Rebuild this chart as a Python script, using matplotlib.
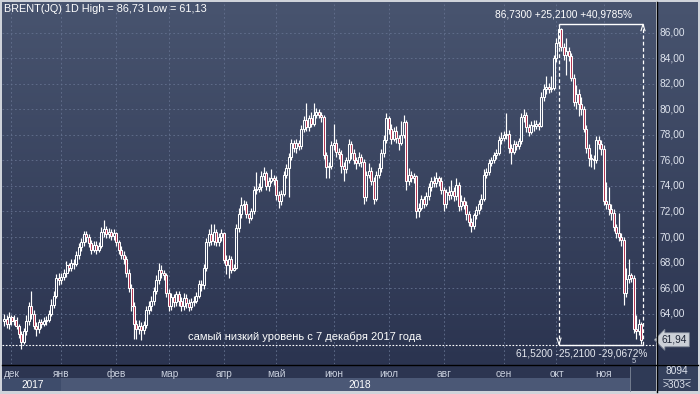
import numpy as np
import matplotlib
matplotlib.use('Agg')
import matplotlib.pyplot as plt
from matplotlib.patches import Rectangle
from matplotlib.colors import LinearSegmentedColormap

plt.rcParams['font.family'] = ['Liberation Sans', 'DejaVu Sans']

# daily closes, Brent, late Nov 2017 - Nov 2018
cl = [63.6, 63.2, 63.7, 63.4, 63.5, 63.0, 62.4, 61.8, 62.6, 63.4,
      64.6, 64.0, 63.0, 62.8, 63.3, 63.2, 63.4, 63.5, 64.0, 64.7,
      65.4, 66.8, 66.6, 66.9, 67.2, 67.8, 67.6, 68.0, 67.9, 68.6,
      69.2, 69.6, 70.2, 70.0, 69.5, 69.0, 69.4, 69.0, 69.3, 70.4,
      70.6, 70.2, 70.4, 70.1, 70.3, 69.6, 69.0, 68.6, 68.3, 67.2,
      66.0, 64.6, 63.2, 62.8, 63.0, 62.7, 63.1, 64.3, 64.6, 65.0,
      65.8, 66.6, 67.4, 67.2, 67.0, 65.6, 64.6, 65.3, 64.9, 65.5,
      65.0, 64.6, 65.2, 64.8, 64.5, 64.9, 65.0, 65.4, 66.3, 66.2,
      67.6, 69.6, 70.2, 69.7, 70.4, 69.6, 70.0, 70.3, 68.2, 67.8,
      68.3, 67.4, 67.6, 70.7, 71.8, 72.5, 72.6, 71.8, 71.5, 72.0,
      73.7, 73.8, 73.9, 74.8, 75.0, 74.0, 74.4, 74.6, 74.5, 73.3,
      72.8, 73.4, 74.9, 75.4, 76.3, 77.4, 77.0, 77.4, 77.1, 78.5,
      79.2, 78.6, 79.3, 78.9, 79.6, 79.8, 79.6, 79.4, 76.4, 75.5,
      75.6, 77.2, 77.4, 76.7, 76.5, 75.6, 75.3, 76.0, 77.3, 76.6,
      76.0, 75.8, 76.3, 75.9, 73.1, 74.9, 75.2, 74.4, 73.0, 74.9,
      75.4, 76.6, 77.6, 79.3, 78.5, 77.7, 78.3, 77.8, 77.4, 78.0,
      79.0, 74.4, 74.9, 74.6, 74.8, 72.0, 72.3, 73.0, 72.6, 73.2,
      73.9, 74.4, 74.2, 74.6, 74.4, 73.7, 72.6, 73.5, 73.3, 73.6,
      73.2, 74.1, 72.4, 72.8, 72.5, 71.8, 71.2, 70.9, 71.7, 72.1,
      72.6, 73.0, 74.9, 75.1, 75.8, 76.0, 76.4, 76.6, 77.6, 77.8,
      78.0, 78.1, 77.0, 76.7, 77.3, 77.1, 77.5, 79.4, 79.6, 78.6,
      78.2, 78.8, 78.7, 78.9, 78.7, 81.0, 81.6, 81.8, 81.6, 81.7,
      84.0, 85.2, 86.3, 84.9, 84.3, 84.6, 84.2, 82.5, 80.6, 81.2,
      80.4, 80.0, 78.5, 77.0, 76.2, 76.1, 76.0, 77.6, 77.3, 76.9,
      72.8, 72.6, 72.2, 71.9, 70.8, 70.3, 70.0, 69.8, 65.6, 66.7,
      67.0, 66.8, 62.8, 62.6, 63.2, 61.94]

hi = [64.0, 63.9, 64.1, 63.9, 63.9, 63.7, 63.2, 62.6, 62.9, 63.9,
      64.9, 65.8, 64.3, 63.3, 63.6, 63.6, 63.7, 63.8, 64.3, 65.1,
      65.8, 67.1, 67.2, 67.2, 67.5, 68.1, 68.0, 68.3, 68.3, 68.9,
      69.5, 69.9, 70.5, 70.5, 70.2, 69.8, 69.7, 69.7, 69.6, 70.8,
      71.3, 70.9, 70.7, 70.6, 70.6, 70.4, 69.8, 69.3, 68.9, 68.5,
      67.5, 66.3, 64.9, 63.5, 63.5, 63.3, 63.4, 64.6, 65.0, 65.4,
      66.1, 67.0, 68.0, 67.8, 67.4, 67.2, 65.9, 65.6, 65.5, 65.8,
      65.8, 65.3, 65.6, 65.5, 65.1, 65.2, 65.4, 65.7, 66.6, 66.6,
      67.9, 69.9, 70.6, 71.0, 71.0, 70.6, 70.3, 70.6, 70.4, 68.6,
      68.6, 68.5, 67.9, 71.0, 72.3, 73.1, 72.9, 72.8, 71.9, 72.3,
      74.0, 75.1, 74.2, 75.2, 75.5, 75.2, 74.7, 75.3, 74.9, 74.8,
      73.6, 73.7, 75.2, 75.7, 76.6, 77.7, 77.6, 77.7, 77.6, 78.8,
      79.5, 80.5, 79.6, 79.8, 80.5, 80.1, 80.0, 79.8, 79.6, 76.7,
      75.9, 77.5, 78.9, 77.7, 77.0, 76.8, 75.9, 76.3, 77.7, 77.5,
      76.9, 76.3, 76.7, 76.5, 76.1, 75.2, 75.8, 75.5, 74.7, 75.2,
      75.8, 76.9, 78.0, 79.7, 79.5, 78.9, 78.6, 78.7, 78.0, 79.1,
      79.6, 79.2, 75.4, 75.2, 75.0, 74.9, 72.7, 73.3, 73.2, 73.5,
      74.2, 74.7, 74.8, 75.1, 74.8, 74.7, 73.9, 73.8, 74.0, 74.5,
      73.9, 74.6, 74.3, 73.3, 73.1, 72.8, 72.0, 71.5, 71.9, 72.4,
      72.9, 73.4, 75.3, 75.4, 76.1, 76.3, 76.7, 76.9, 77.9, 78.2,
      78.3, 79.7, 78.4, 77.3, 77.6, 77.5, 77.8, 79.7, 80.0, 79.8,
      78.9, 79.1, 79.2, 79.2, 79.0, 81.4, 82.0, 82.6, 82.1, 82.6,
      84.3, 85.6, 86.73, 86.4, 85.2, 85.6, 84.9, 84.4, 82.8, 81.9,
      81.6, 81.0, 80.3, 78.8, 77.3, 76.5, 76.4, 77.9, 77.9, 77.6,
      77.2, 74.3, 73.9, 72.6, 72.2, 71.0, 71.9, 70.3, 70.0, 67.6,
      68.3, 67.2, 67.0, 63.9, 63.6, 63.3]

lo = [63.0, 62.9, 62.8, 63.1, 63.1, 62.8, 62.1, 61.2, 61.6, 62.3,
      63.1, 63.6, 62.8, 62.2, 62.5, 62.9, 63.0, 63.1, 63.3, 63.8,
      64.4, 65.2, 66.2, 66.3, 66.6, 66.9, 67.3, 67.3, 67.5, 67.7,
      68.3, 68.9, 69.3, 69.6, 69.2, 68.7, 68.8, 68.7, 68.8, 69.1,
      70.0, 69.9, 69.9, 69.8, 69.8, 69.3, 68.7, 68.3, 67.9, 66.9,
      65.7, 64.2, 62.0, 62.0, 62.4, 61.9, 62.4, 62.9, 64.0, 64.2,
      64.7, 65.5, 66.3, 66.8, 66.6, 65.3, 64.2, 64.3, 64.5, 64.6,
      64.6, 64.2, 64.3, 64.4, 64.2, 64.3, 64.6, 64.8, 65.2, 65.8,
      65.9, 67.3, 69.3, 69.4, 69.4, 69.3, 69.3, 69.7, 68.0, 67.1,
      66.8, 67.2, 67.3, 67.5, 70.4, 71.5, 72.1, 71.5, 71.1, 71.3,
      71.8, 73.4, 73.5, 73.6, 74.5, 73.7, 73.6, 74.2, 74.1, 72.9,
      72.3, 72.5, 73.2, 74.6, 73.1, 76.0, 76.7, 76.6, 76.8, 76.9,
      78.2, 78.3, 78.3, 78.6, 78.7, 79.3, 79.3, 79.0, 76.1, 74.6,
      74.6, 75.3, 76.8, 76.3, 76.1, 75.0, 74.4, 75.0, 75.8, 76.1,
      75.7, 75.3, 75.6, 75.5, 72.6, 72.8, 74.6, 74.1, 72.6, 72.8,
      74.6, 75.1, 76.3, 77.4, 78.1, 77.3, 77.5, 77.4, 76.8, 77.2,
      77.8, 73.7, 74.1, 74.3, 74.2, 71.5, 71.6, 72.1, 72.3, 72.4,
      72.9, 73.6, 73.9, 73.9, 74.0, 73.4, 72.0, 72.3, 72.9, 73.0,
      72.8, 72.9, 72.0, 72.1, 72.2, 71.3, 70.9, 70.4, 70.6, 71.4,
      71.8, 72.2, 72.8, 74.6, 74.9, 75.6, 75.8, 76.1, 76.4, 77.3,
      77.5, 77.7, 76.6, 75.7, 76.5, 76.8, 76.9, 77.3, 79.0, 78.2,
      77.9, 78.1, 78.3, 78.5, 78.4, 78.6, 80.7, 81.2, 81.3, 81.4,
      81.5, 83.7, 84.9, 84.6, 83.9, 82.7, 83.8, 82.2, 80.3, 80.0,
      79.5, 79.6, 78.2, 76.6, 75.6, 75.5, 75.3, 75.8, 76.9, 76.4,
      72.5, 72.2, 71.7, 71.3, 70.5, 69.9, 69.7, 69.3, 64.7, 65.3,
      66.4, 66.5, 62.5, 62.0, 62.3, 61.6]

first_open = 63.4
months = ['дек', 'янв', 'фев', 'мар', 'апр', 'май', 'июн', 'июл', 'авг', 'сен', 'окт', 'ноя']
month_idx = [3, 23, 45, 66, 88, 109, 132, 154, 176, 200, 221, 240]
years = ['2017', '2018']
price_ticks = [64, 66, 68, 70, 72, 74, 76, 78, 80, 82, 84, 86]
base_price = 61.52
last_price = 61.94
title = 'BRENT(JQ) 1D High = 86,73 Low = 61,13'
note = 'самый низкий уровень с 7 декабря 2017 года'

W, H = 700, 394
def fx(px):
    return px / W
def fy(py):
    return 1 - py / H

cl = np.array(cl)
hi = np.array(hi)
lo = np.array(lo)
n = cl.size
x = np.arange(n)
op = np.r_[first_open, cl[:-1]]
top = np.maximum(op, cl)
bot = np.minimum(op, cl)

ymin, ymax = 60.04, 88.43
xmin, xmax = -0.8, 260.8

fig = plt.figure(figsize=(7, 3.94), dpi=100, facecolor='#cfd3da')
grad = LinearSegmentedColormap.from_list('bg', ['#2b3450', '#48546f'])
g = np.linspace(0, 1, 256).reshape(-1, 1)

# bottom bands (behind the axes)
def band(x0, y0, x1, y1, c):
    fig.add_artist(Rectangle((fx(x0), fy(y1)), fx(x1 - x0), (y1 - y0) / H,
                             color=c, lw=0, zorder=-5))

band(2, 364, 656, 391, '#2c3551')
band(2, 378, 61, 391, '#3e4c6b')
band(61, 378, 630, 391, '#4b5876')
band(630, 364, 656, 391, '#2f3a56')
band(657, 364, 698, 391, '#34405c')

ax = fig.add_axes([fx(2), fy(364), fx(654), 362 / H])
ax.imshow(g, cmap=grad, aspect='auto', extent=[xmin, xmax, ymin, ymax],
          origin='lower', zorder=0)
ax.set_xlim(xmin, xmax)
ax.set_ylim(ymin, ymax)
ax.patch.set_alpha(0)

rax = fig.add_axes([fx(657), fy(364), fx(41), 362 / H])
rax.imshow(g, cmap=grad, aspect='auto', extent=[0, 1, ymin, ymax], origin='lower')
rax.set_xlim(0, 1)
rax.set_ylim(ymin, ymax)
rax.axis('off')

# grid
for t in price_ticks:
    ax.axhline(t, color='#64718f', lw=0.6, ls=(0, (2, 3)), zorder=1)
for m in month_idx:
    ax.axvline(m, color='#64718f', lw=0.6, ls=(0, (2, 3)), zorder=1)

# candles
colors = np.where(cl >= op, 'none', '#b02f4d')
ax.vlines(x, top, hi, color='white', lw=0.85, zorder=2)
ax.vlines(x, lo, bot, color='white', lw=0.85, zorder=2)
ax.bar(x, np.maximum(top - bot, 0.03), bottom=bot, width=0.8,
       color=list(colors), edgecolor='white', lw=0.75, zorder=3)

# measure box from peak to low
peak_i = int(np.argmax(hi))
peak = hi[peak_i]
end_i = n - 0.4
change = peak - base_price
ax.axhline(base_price, color='white', lw=0.8, ls=(0, (1.5, 1.5)), zorder=4)
ax.hlines([peak, base_price], peak_i, end_i, color='white', lw=1.0, zorder=4)
ax.vlines([peak_i, end_i], base_price, peak, color='white', lw=0.9,
          ls=(0, (3, 2)), zorder=4)
ax.plot([end_i - 0.8, end_i, end_i + 0.8], [peak - 0.55, peak - 0.05, peak - 0.55],
        color='white', lw=0.8, zorder=4)
ax.plot([peak_i - 0.8, peak_i, peak_i + 0.8], [base_price + 0.55, base_price + 0.05, base_price + 0.55],
        color='white', lw=0.8, zorder=4)

up_txt = f'{peak:.4f} {change:+.4f} {change / base_price * 100:+.4f}%'.replace('.', ',')
dn_txt = f'{base_price:.4f} {-change:+.4f} {-change / peak * 100:+.4f}%'.replace('.', ',')
ax.text(end_i - 4.4, 87.42, up_txt, color='white', fontsize=7.3, ha='right', va='center', zorder=5)
ax.text(xmax - 3.6, 60.9, dn_txt, color='#e6e9f0', fontsize=7.3, ha='right', va='center', zorder=5)
ax.text(end_i - 3.6, 60.25, '5', color='#c8cfdc', fontsize=5.5, ha='center', va='center', zorder=5)
ax.text(73.6, 62.2, note, color='white', fontsize=8, ha='left', va='center', zorder=5)

ax.set_xticks(month_idx)
ax.set_xticklabels(months)
ax.set_yticks(price_ticks)
ax.set_yticklabels([])
ax.tick_params(axis='x', length=0, pad=3.5, labelsize=7.3, labelcolor='#c9d0de')
ax.tick_params(axis='y', length=0)
for s in ax.spines.values():
    s.set_visible(False)

# price scale
for t in price_ticks:
    rax.text(0.07, t, f'{t:.2f}'.replace('.', ','), color='#dfe4ee', fontsize=7.3,
             ha='left', va='center')
rax.text(0.12, last_price, f'{last_price:.2f}'.replace('.', ','), color='#1e2536',
         fontsize=7.3, ha='left', va='center',
         bbox=dict(boxstyle='larrow,pad=0.2', fc='#ccd0d7', ec='#7d8594', lw=0.6))

# separators
fig.add_artist(plt.Line2D([fx(2), fx(698)], [fy(364.5), fy(364.5)], color='black', lw=1))
fig.add_artist(plt.Line2D([fx(656.5), fx(656.5)], [fy(2), fy(392)], color='black', lw=1))
fig.add_artist(plt.Line2D([fx(630), fx(630)], [fy(367), fy(391)], color='#7d8798', lw=0.6))
fig.add_artist(plt.Line2D([fx(663), fx(690)], [fy(378.5), fy(378.5)], color='#aab3c4', lw=0.6))

fig.text(fx(4), fy(9), title, color='white', fontsize=7.8, ha='left', va='center')
fig.text(fx(33), fy(384.5), years[0], color='white', fontsize=7.3, ha='center', va='center')
fig.text(fx(360), fy(384.5), years[1], color='white', fontsize=7.3, ha='center', va='center')
fig.text(fx(677), fy(371), '8094', color='#dfe4ee', fontsize=7.3, ha='center', va='center')
fig.text(fx(677), fy(385), '>303<', color='#dfe4ee', fontsize=7.3, ha='center', va='center')

fig.savefig('out.png', dpi=100, facecolor=fig.get_facecolor())
